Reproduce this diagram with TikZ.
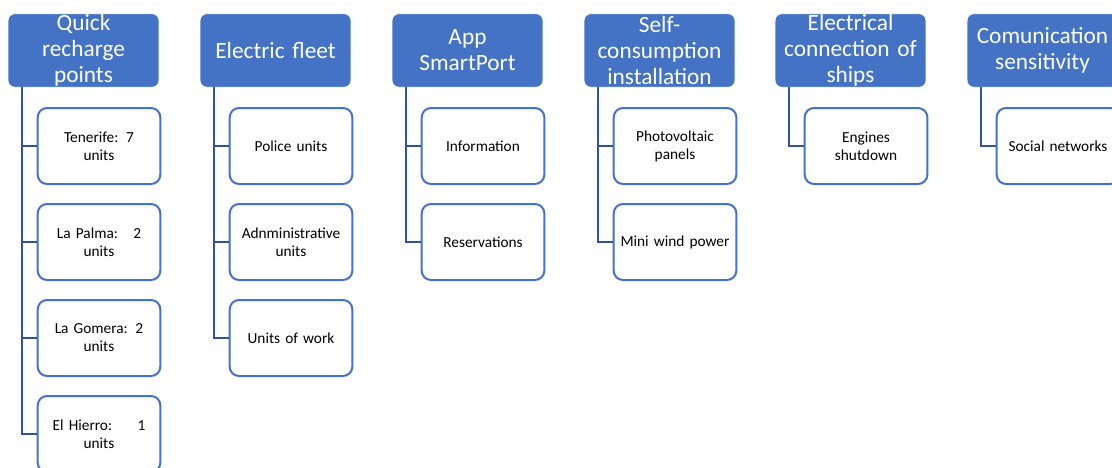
\documentclass[tikz,border=0pt]{standalone}
\usepackage{fontspec}
\setmainfont{Carlito}
\usetikzlibrary{calc}

\definecolor{hdblue}{HTML}{4472C4}
\definecolor{lnblue}{HTML}{2F5597}

\tikzset{
    head/.style={rectangle, rounded corners=5pt, fill=hdblue, draw=white, thin,
        text=white, minimum width=113pt, minimum height=55pt, text width=112pt,
        align=center, inner sep=0pt, font=\fontsize{17.5}{19.5}\selectfont},
    item/.style={rectangle, rounded corners=7pt, fill=white, draw=hdblue, line width=1.5pt,
        minimum width=92pt, minimum height=57pt, text width=90pt,
        align=center, inner sep=0pt, font=\fontsize{11.5}{13.5}\selectfont},
    conn/.style={draw=lnblue, line width=1.8pt},
}

\begin{document}
\begin{tikzpicture}[x=0.75pt, y=-0.75pt]
    \clip (0,0) rectangle (1112,467);
    \fill[white] (0,0) rectangle (1112,467);

    % top row
    \node[head] (H1) at (83.5, 50.5) {Quick\\recharge\\points};
    \node[head] (H2) at (275.5, 50.5) {Electric fleet};
    \node[head] (H3) at (467.5, 50.5) {App\\SmartPort};
    \node[head] (H4) at (659.5, 50.5) {Self-\\consumption\\installation};
    \node[head] (H5) at (850.5, 50.5) {Electrical\\connection of\\ships};
    \node[head] (H6) at (1042.5, 50.5) {Comunication\\sensitivity};

    % children
    \node[item] (C11) at (99, 146) {Tenerife: 7\\units};
    \node[item] (C12) at (99, 242) {La Palma:\ \ \ 2\\units};
    \node[item] (C13) at (99, 338) {La Gomera: 2\\units};
    \node[item] (C14) at (99, 434) {El Hierro:\hspace{19pt}1\\units};

    \node[item] (C21) at (291, 146) {Police units};
    \node[item] (C22) at (291, 242) {Adnministrative\\units};
    \node[item] (C23) at (291, 338) {Units of work};

    \node[item] (C31) at (483, 146) {Information};
    \node[item] (C32) at (483, 242) {Reservations};

    \node[item] (C41) at (675, 146) {Photovoltaic\\panels};
    \node[item] (C42) at (675, 242) {Mini wind power};

    \node[item] (C51) at (866, 146) {Engines\\shutdown};

    \node[item] (C61) at (1058, 146) {Social networks};

    % connectors
    \draw[conn] ($(H1.south west)+(14,0)$) |- (C14.west);
    \draw[conn] ($(H1.south west)+(14,0)$) |- (C11.west);
    \draw[conn] ($(H1.south west)+(14,0)$) |- (C12.west);
    \draw[conn] ($(H1.south west)+(14,0)$) |- (C13.west);

    \draw[conn] ($(H2.south west)+(14,0)$) |- (C23.west);
    \draw[conn] ($(H2.south west)+(14,0)$) |- (C21.west);
    \draw[conn] ($(H2.south west)+(14,0)$) |- (C22.west);

    \draw[conn] ($(H3.south west)+(14,0)$) |- (C32.west);
    \draw[conn] ($(H3.south west)+(14,0)$) |- (C31.west);

    \draw[conn] ($(H4.south west)+(14,0)$) |- (C42.west);
    \draw[conn] ($(H4.south west)+(14,0)$) |- (C41.west);

    \draw[conn] ($(H5.south west)+(14,0)$) |- (C51.west);

    \draw[conn] ($(H6.south west)+(14,0)$) |- (C61.west);
\end{tikzpicture}
\end{document}
